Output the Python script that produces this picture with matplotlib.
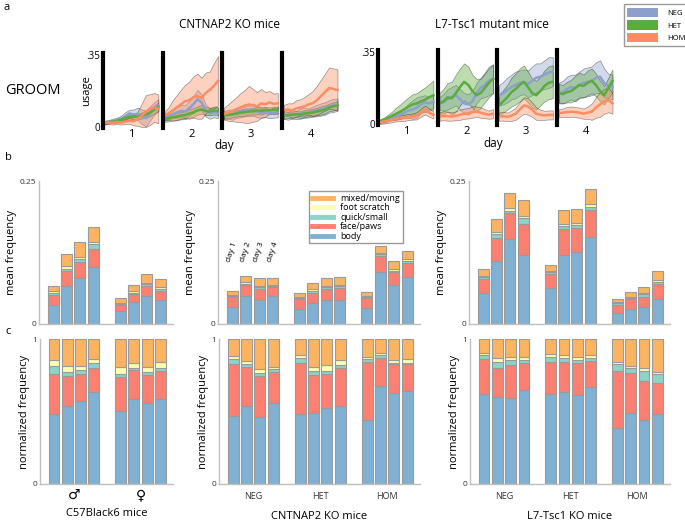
import matplotlib
matplotlib.use("Agg")
import matplotlib.pyplot as plt
from matplotlib.patches import Patch
from matplotlib.lines import Line2D
import numpy as np

plt.rcParams['font.family'] = ['Open Sans', 'DejaVu Sans']

# ---------------- panel a: usage over each day session ----------------
days = ['1', '2', '3', '4']
genotypes = ['NEG', 'HET', 'HOM']

cn_neg = [[0.022, 0.026, 0.030, 0.034, 0.040, 0.052, 0.066, 0.060, 0.064, 0.050, 0.042, 0.066, 0.090, 0.105],
          [0.050, 0.055, 0.062, 0.070, 0.078, 0.075, 0.090, 0.110, 0.135, 0.120, 0.080, 0.065, 0.072, 0.068],
          [0.058, 0.062, 0.060, 0.070, 0.075, 0.082, 0.078, 0.085, 0.075, 0.070, 0.072, 0.065, 0.070, 0.072],
          [0.060, 0.055, 0.062, 0.058, 0.065, 0.070, 0.068, 0.075, 0.080, 0.085, 0.090, 0.100, 0.105, 0.108]]
cn_neg_sd = [[0.008, 0.008, 0.010, 0.012, 0.015, 0.020, 0.018, 0.025, 0.030, 0.035, 0.040, 0.035, 0.030, 0.030],
             [0.015, 0.018, 0.020, 0.025, 0.030, 0.030, 0.035, 0.040, 0.045, 0.040, 0.030, 0.025, 0.025, 0.025],
             [0.020, 0.022, 0.025, 0.025, 0.028, 0.030, 0.025, 0.030, 0.028, 0.025, 0.025, 0.022, 0.025, 0.025],
             [0.020, 0.020, 0.022, 0.020, 0.025, 0.025, 0.022, 0.025, 0.028, 0.030, 0.030, 0.030, 0.032, 0.030]]
cn_het = [[0.020, 0.024, 0.026, 0.030, 0.036, 0.044, 0.048, 0.052, 0.050, 0.056, 0.060, 0.070, 0.085, 0.098],
          [0.040, 0.042, 0.048, 0.050, 0.055, 0.058, 0.065, 0.070, 0.080, 0.085, 0.078, 0.075, 0.080, 0.078],
          [0.055, 0.058, 0.062, 0.065, 0.070, 0.072, 0.075, 0.076, 0.080, 0.078, 0.082, 0.080, 0.085, 0.083],
          [0.055, 0.058, 0.060, 0.062, 0.060, 0.065, 0.068, 0.070, 0.075, 0.080, 0.085, 0.095, 0.100, 0.105]]
cn_het_sd = [[0.006, 0.006, 0.007, 0.008, 0.010, 0.010, 0.012, 0.012, 0.012, 0.015, 0.015, 0.018, 0.020, 0.020],
             [0.015, 0.015, 0.016, 0.018, 0.018, 0.020, 0.020, 0.022, 0.020, 0.022, 0.020, 0.018, 0.020, 0.020],
             [0.015, 0.015, 0.016, 0.015, 0.016, 0.018, 0.015, 0.016, 0.018, 0.016, 0.015, 0.016, 0.015, 0.015],
             [0.015, 0.015, 0.016, 0.015, 0.016, 0.018, 0.016, 0.018, 0.018, 0.020, 0.020, 0.018, 0.020, 0.020]]
cn_hom = [[0.020, 0.022, 0.020, 0.024, 0.022, 0.026, 0.030, 0.028, 0.040, 0.055, 0.075, 0.085, 0.095, 0.088],
          [0.055, 0.065, 0.080, 0.095, 0.110, 0.125, 0.130, 0.145, 0.150, 0.140, 0.165, 0.180, 0.200, 0.225],
          [0.065, 0.070, 0.078, 0.085, 0.095, 0.100, 0.110, 0.105, 0.100, 0.115, 0.110, 0.120, 0.112, 0.115],
          [0.082, 0.085, 0.080, 0.090, 0.095, 0.100, 0.110, 0.115, 0.130, 0.150, 0.170, 0.190, 0.185, 0.180]]
cn_hom_sd = [[0.008, 0.008, 0.008, 0.010, 0.010, 0.012, 0.015, 0.020, 0.035, 0.060, 0.080, 0.075, 0.070, 0.070],
             [0.020, 0.030, 0.050, 0.060, 0.070, 0.080, 0.090, 0.100, 0.110, 0.100, 0.100, 0.090, 0.110, 0.120],
             [0.030, 0.040, 0.050, 0.060, 0.070, 0.080, 0.090, 0.080, 0.070, 0.070, 0.060, 0.055, 0.050, 0.050],
             [0.025, 0.030, 0.035, 0.040, 0.040, 0.045, 0.050, 0.060, 0.070, 0.080, 0.090, 0.100, 0.100, 0.100]]

l7_neg = [[0.010, 0.015, 0.022, 0.030, 0.038, 0.045, 0.055, 0.065, 0.070, 0.080, 0.095, 0.105, 0.100, 0.108],
          [0.100, 0.105, 0.120, 0.130, 0.140, 0.120, 0.100, 0.095, 0.110, 0.150, 0.175, 0.190, 0.210, 0.220],
          [0.140, 0.150, 0.165, 0.180, 0.190, 0.200, 0.205, 0.195, 0.210, 0.225, 0.230, 0.240, 0.250, 0.255],
          [0.150, 0.155, 0.170, 0.180, 0.175, 0.190, 0.200, 0.205, 0.210, 0.225, 0.230, 0.200, 0.185, 0.180]]
l7_neg_sd = [[0.006, 0.008, 0.010, 0.012, 0.015, 0.020, 0.025, 0.035, 0.045, 0.050, 0.040, 0.035, 0.030, 0.030],
             [0.030, 0.040, 0.050, 0.050, 0.050, 0.050, 0.050, 0.050, 0.050, 0.050, 0.050, 0.060, 0.070, 0.070],
             [0.050, 0.055, 0.060, 0.060, 0.065, 0.060, 0.060, 0.065, 0.070, 0.070, 0.065, 0.070, 0.075, 0.070],
             [0.050, 0.055, 0.060, 0.060, 0.065, 0.065, 0.070, 0.070, 0.070, 0.075, 0.080, 0.070, 0.060, 0.060]]
l7_het = [[0.015, 0.020, 0.030, 0.040, 0.050, 0.060, 0.072, 0.085, 0.095, 0.100, 0.110, 0.118, 0.130, 0.140],
          [0.100, 0.110, 0.130, 0.125, 0.150, 0.180, 0.205, 0.190, 0.160, 0.140, 0.150, 0.175, 0.200, 0.220],
          [0.090, 0.110, 0.130, 0.155, 0.170, 0.190, 0.205, 0.180, 0.150, 0.140, 0.160, 0.185, 0.200, 0.206],
          [0.150, 0.145, 0.155, 0.160, 0.175, 0.190, 0.185, 0.200, 0.210, 0.190, 0.160, 0.140, 0.175, 0.210]]
l7_het_sd = [[0.008, 0.010, 0.015, 0.020, 0.030, 0.035, 0.040, 0.045, 0.050, 0.050, 0.055, 0.060, 0.065, 0.070],
             [0.050, 0.060, 0.070, 0.080, 0.090, 0.090, 0.090, 0.090, 0.080, 0.080, 0.070, 0.070, 0.070, 0.070],
             [0.050, 0.055, 0.060, 0.070, 0.075, 0.080, 0.080, 0.075, 0.070, 0.070, 0.070, 0.075, 0.080, 0.080],
             [0.045, 0.045, 0.050, 0.055, 0.060, 0.060, 0.055, 0.060, 0.060, 0.055, 0.050, 0.045, 0.050, 0.055]]
l7_hom = [[0.008, 0.012, 0.015, 0.020, 0.025, 0.028, 0.030, 0.034, 0.036, 0.040, 0.055, 0.068, 0.055, 0.044],
          [0.036, 0.040, 0.038, 0.036, 0.040, 0.045, 0.050, 0.052, 0.058, 0.060, 0.055, 0.050, 0.045, 0.050],
          [0.036, 0.038, 0.035, 0.040, 0.050, 0.070, 0.090, 0.085, 0.070, 0.050, 0.045, 0.042, 0.044, 0.044],
          [0.052, 0.055, 0.058, 0.060, 0.058, 0.055, 0.050, 0.055, 0.060, 0.080, 0.095, 0.110, 0.117, 0.100]]
l7_hom_sd = [[0.008, 0.010, 0.010, 0.012, 0.012, 0.014, 0.015, 0.015, 0.015, 0.018, 0.020, 0.022, 0.020, 0.018],
             [0.020, 0.022, 0.022, 0.020, 0.022, 0.025, 0.025, 0.025, 0.028, 0.025, 0.025, 0.022, 0.020, 0.022],
             [0.020, 0.022, 0.020, 0.025, 0.030, 0.035, 0.040, 0.040, 0.035, 0.030, 0.025, 0.022, 0.022, 0.022],
             [0.020, 0.020, 0.025, 0.025, 0.025, 0.025, 0.025, 0.030, 0.040, 0.050, 0.060, 0.060, 0.060, 0.050]]

geno_colors = ['#8da0cb', '#5cab3e', '#fc8d62']

# ---------------- panels b / c: grooming syllable composition ----------------
syllables = ['body', 'face/paws', 'quick/small', 'foot scratch', 'mixed/moving']
syl_colors = ['#80b1d3', '#fb8072', '#8dd3c7', '#ffffb3', '#fdb462']

c57_groups = ['\u2642', '\u2640']
ko_groups = ['NEG', 'HET', 'HOM']

# mean frequency, per bar (days 1-4 within each group)
c57_mean_body = [0.033, 0.067, 0.081, 0.099, 0.022, 0.038, 0.049, 0.042]
c57_mean_face = [0.017, 0.025, 0.028, 0.032, 0.011, 0.0145, 0.018, 0.016]
c57_mean_quick = [0.005, 0.005, 0.005, 0.009, 0.002, 0.0025, 0.0025, 0.003]
c57_mean_foot = [0.002, 0.004, 0.0035, 0.004, 0.002, 0.002, 0.003, 0.003]
c57_mean_mixed = [0.010, 0.022, 0.0255, 0.025, 0.008, 0.0115, 0.0155, 0.014]

cn_mean_body = [0.029, 0.0488, 0.0413, 0.0483, 0.0267, 0.0372, 0.0424, 0.0424, 0.0279, 0.0907, 0.0674, 0.0826]
cn_mean_face = [0.0175, 0.0186, 0.0197, 0.0162, 0.0175, 0.0175, 0.0186, 0.021, 0.018, 0.0279, 0.0227, 0.0244]
cn_mean_quick = [0.003, 0.0029, 0.003, 0.0024, 0.0017, 0.0034, 0.003, 0.0029, 0.0018, 0.0034, 0.0029, 0.0023]
cn_mean_foot = [0.0016, 0.0024, 0.0023, 0.0011, 0.0018, 0.0024, 0.0023, 0.0023, 0.0017, 0.0018, 0.0023, 0.0035]
cn_mean_mixed = [0.006, 0.011, 0.0139, 0.0128, 0.0058, 0.0116, 0.0145, 0.014, 0.0058, 0.0134, 0.0152, 0.0145]

l7_mean_body = [0.0535, 0.111, 0.1494, 0.1198, 0.0622, 0.1215, 0.1256, 0.1523, 0.0192, 0.0267, 0.0302, 0.043]
l7_mean_face = [0.0256, 0.039, 0.0446, 0.0558, 0.0244, 0.0448, 0.043, 0.0465, 0.0145, 0.0163, 0.0175, 0.0262]
l7_mean_quick = [0.0029, 0.008, 0.0037, 0.0104, 0.0035, 0.0052, 0.0041, 0.0064, 0.0023, 0.0029, 0.0046, 0.0046]
l7_mean_foot = [0.0023, 0.003, 0.0058, 0.0035, 0.0023, 0.0041, 0.0046, 0.0053, 0.0018, 0.0012, 0.0018, 0.0029]
l7_mean_mixed = [0.0122, 0.023, 0.0255, 0.0268, 0.0116, 0.0232, 0.0233, 0.0261, 0.0064, 0.0093, 0.0099, 0.0152]

# normalized frequency
c57_norm_body = [0.484, 0.535, 0.574, 0.634, 0.505, 0.585, 0.560, 0.588]
c57_norm_face = [0.272, 0.209, 0.186, 0.168, 0.235, 0.198, 0.193, 0.193]
c57_norm_quick = [0.057, 0.030, 0.028, 0.032, 0.018, 0.019, 0.021, 0.021]
c57_norm_foot = [0.042, 0.037, 0.025, 0.028, 0.048, 0.032, 0.035, 0.041]
c57_norm_mixed = [0.145, 0.189, 0.187, 0.138, 0.194, 0.166, 0.191, 0.157]

cn_norm_body = [0.468, 0.539, 0.461, 0.562, 0.486, 0.493, 0.523, 0.539, 0.438, 0.679, 0.626, 0.638]
cn_norm_face = [0.358, 0.266, 0.282, 0.213, 0.347, 0.257, 0.234, 0.259, 0.401, 0.188, 0.200, 0.188]
cn_norm_quick = [0.034, 0.021, 0.021, 0.016, 0.034, 0.030, 0.025, 0.021, 0.021, 0.021, 0.011, 0.011]
cn_norm_foot = [0.025, 0.023, 0.027, 0.019, 0.023, 0.030, 0.041, 0.039, 0.018, 0.018, 0.021, 0.023]
cn_norm_mixed = [0.115, 0.151, 0.209, 0.190, 0.110, 0.190, 0.177, 0.142, 0.122, 0.094, 0.142, 0.140]

l7_norm_body = [0.618, 0.599, 0.590, 0.645, 0.624, 0.636, 0.613, 0.668, 0.389, 0.493, 0.438, 0.484]
l7_norm_face = [0.244, 0.198, 0.230, 0.191, 0.215, 0.203, 0.219, 0.180, 0.387, 0.270, 0.269, 0.216]
l7_norm_quick = [0.025, 0.046, 0.033, 0.017, 0.034, 0.027, 0.023, 0.021, 0.049, 0.039, 0.072, 0.056]
l7_norm_foot = [0.019, 0.023, 0.020, 0.020, 0.021, 0.021, 0.018, 0.020, 0.014, 0.011, 0.018, 0.014]
l7_norm_mixed = [0.094, 0.134, 0.127, 0.127, 0.106, 0.113, 0.127, 0.111, 0.161, 0.187, 0.203, 0.230]


def bar_positions(n_groups):
    return np.concatenate([np.arange(4) + 5 * g for g in range(n_groups)])


def stacked(ax, segs):
    pos = bar_positions(len(segs[0]) // 4)
    bottom = np.zeros(len(pos))
    for vals, col, lab in zip(segs, syl_colors, syllables):
        vals = np.array(vals)
        ax.bar(pos, vals, bottom=bottom, width=0.82, color=col, edgecolor='#9a9a9a',
               linewidth=0.8, label=lab)
        bottom += vals
    return pos


def style_bar_axes(ax, n_groups):
    for s in ['top', 'right']:
        ax.spines[s].set_visible(False)
    for s in ['left', 'bottom']:
        ax.spines[s].set_color('#c0c0c0')
        ax.spines[s].set_linewidth(1.0)
    ax.set_xlim(-1.05, 5 * n_groups - 1.05)
    ax.tick_params(length=0, labelsize=6, pad=2, colors='#333333')


def day_axes(ax, series, sds, d, first):
    for mean, sd, col in zip(series, sds, geno_colors):
        m = np.array(mean[d])
        s = np.array(sd[d])
        x = np.arange(len(m))
        ax.fill_between(x, np.clip(m - s, 0, None), m + s, color=col, alpha=0.4,
                        edgecolor='black', linewidth=0.5)
    for mean, col in zip(series, geno_colors):
        m = np.array(mean[d])
        ax.plot(np.arange(len(m)), m, color=col, lw=1.8)
    ax.set_xlim(-0.4, len(series[0][d]) - 0.6)
    ax.set_ylim(-0.005, 0.36)
    for s in ['top', 'right', 'bottom']:
        ax.spines[s].set_visible(False)
    ax.spines['left'].set_linewidth(3)
    ax.set_xticks([])
    ax.set_xlabel(days[d], fontsize=8, labelpad=1)
    if first:
        ax.set_yticks([0, 0.35])
        ax.set_yticklabels(['0', '.35'])
        ax.tick_params(axis='y', length=0, labelsize=7, pad=2)
    else:
        ax.set_yticks([])


fig = plt.figure(figsize=(6.85, 5.21), dpi=100)
W, H = 685.0, 521.0

# panel a
for g, (series, sds, x0, top) in enumerate([((cn_neg, cn_het, cn_hom), (cn_neg_sd, cn_het_sd, cn_hom_sd), 103, 53),
                                             ((l7_neg, l7_het, l7_hom), (l7_neg_sd, l7_het_sd, l7_hom_sd), 378, 50)]):
    for d in range(4):
        ax = fig.add_axes([(x0 + d * 59.7) / W, 1 - (top + 75) / H, 57 / W, 75 / H])
        day_axes(ax, series, sds, d, d == 0)
        if g == 0 and d == 0:
            ax.set_ylabel('usage', fontsize=8, labelpad=-4)

fig.text(230 / W, 1 - 25 / H, 'CNTNAP2 KO mice', fontsize=8.5, ha='center', va='center')
fig.text(492 / W, 1 - 25 / H, 'L7-Tsc1 mutant mice', fontsize=8.5, ha='center', va='center')
fig.text(33 / W, 1 - 91 / H, 'GROOM', fontsize=10.5, ha='center', va='center')
fig.text(224 / W, 1 - 146 / H, 'day', fontsize=8.5, ha='center', va='center')
fig.text(493 / W, 1 - 143 / H, 'day', fontsize=8.5, ha='center', va='center')
fig.legend(handles=[Patch(facecolor=c, edgecolor='none') for c in geno_colors], labels=genotypes,
           loc='upper right', bbox_to_anchor=(1.012, 1.0), fontsize=5.5, handlelength=4.0,
           handleheight=1.6, labelspacing=0.35, borderpad=0.5, handletextpad=1.2,
           frameon=True, fancybox=False, edgecolor='#999999', framealpha=1)

fig.text(3 / W, 1 - 8 / H, 'a', fontsize=8, ha='left', va='center')
fig.text(5 / W, 1 - 158 / H, 'b', fontsize=8, ha='left', va='center')
fig.text(5 / W, 1 - 332 / H, 'c', fontsize=8, ha='left', va='center')

# panels b and c
mean_sets = [(c57_mean_body, c57_mean_face, c57_mean_quick, c57_mean_foot, c57_mean_mixed),
             (cn_mean_body, cn_mean_face, cn_mean_quick, cn_mean_foot, cn_mean_mixed),
             (l7_mean_body, l7_mean_face, l7_mean_quick, l7_mean_foot, l7_mean_mixed)]
norm_sets = [(c57_norm_body, c57_norm_face, c57_norm_quick, c57_norm_foot, c57_norm_mixed),
             (cn_norm_body, cn_norm_face, cn_norm_quick, cn_norm_foot, cn_norm_mixed),
             (l7_norm_body, l7_norm_face, l7_norm_quick, l7_norm_foot, l7_norm_mixed)]
group_names = [c57_groups, ko_groups, ko_groups]
strain_names = ['C57Black6 mice', 'CNTNAP2 KO mice', 'L7-Tsc1 KO mice']
lefts = [39, 218, 469]
widths = [134, 202, 201]

for i in range(3):
    ng = len(group_names[i])
    axb = fig.add_axes([lefts[i] / W, 1 - 324 / H, widths[i] / W, 143 / H])
    pos = stacked(axb, mean_sets[i])
    style_bar_axes(axb, ng)
    axb.set_ylim(0, 0.25)
    axb.set_yticks([0, 0.25])
    axb.set_yticklabels(['0', '0.25'])
    axb.set_xticks([])
    axb.set_ylabel('mean frequency', fontsize=8, labelpad=2)
    if i == 1:
        for k in range(4):
            axb.text(pos[k], 0.126, 'day %d' % (k + 1), rotation=72, ha='center', va='center',
                     fontsize=6)
        h, l = axb.get_legend_handles_labels()
        handles = [Line2D([], [], color=c, lw=3.5) for c in syl_colors][::-1]
        axb.legend(handles, syllables[::-1], loc='upper left', bbox_to_anchor=(0.43, 0.96),
                   fontsize=6.5, handlelength=2.3, labelspacing=0.05, borderpad=0.3,
                   frameon=True, fancybox=False, edgecolor='#999999', framealpha=1)

    axc = fig.add_axes([(lefts[i] + 1) / W, 1 - 484 / H, (widths[i] - 1) / W, 145 / H])
    stacked(axc, norm_sets[i])
    style_bar_axes(axc, ng)
    axc.set_ylim(0, 1)
    axc.set_yticks([0, 1])
    axc.set_yticklabels(['0', '1'])
    centers = [1.5 + 5 * g for g in range(ng)]
    axc.set_xticks(centers)
    if i == 0:
        axc.set_xticklabels(group_names[i], fontsize=10, fontweight='bold', color='black')
        axc.tick_params(axis='x', pad=3)
    else:
        axc.set_xticklabels(group_names[i], fontsize=6.5)
        axc.tick_params(axis='x', pad=6)
    axc.set_ylabel('normalized frequency', fontsize=8, labelpad=2)
    axc.set_xlabel(strain_names[i], fontsize=8, labelpad=7 if i > 0 else 4)

fig.savefig('out.png', dpi=100)
